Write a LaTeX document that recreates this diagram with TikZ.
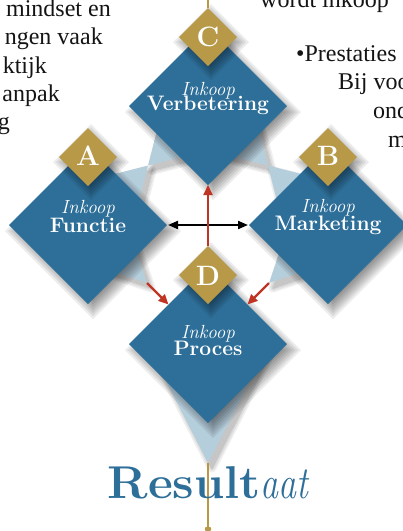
\documentclass[tikz,border=0pt]{standalone}
\usepackage{fontspec}
\usepackage{graphicx}
\newfontfamily\sidefont{Liberation Serif}
\usetikzlibrary{shapes.geometric,arrows.meta,calc}
\definecolor{dblue}{RGB}{46,111,153}
\definecolor{lblue}{RGB}{181,206,220}
\definecolor{gold}{RGB}{183,153,72}
\definecolor{ared}{RGB}{192,52,36}
\definecolor{txt}{RGB}{20,20,20}
% soft shadow of a diamond: centre x, centre y, half diagonal
\newcommand\dshadow[3]{%
  \foreach \d in {-9,-6,-3,0,3,6,9}{%
    \fill[black,opacity=.075] ({#1+5},{#2+6-#3-\d}) -- ({#1+5+#3+\d},{#2+6}) -- ({#1+5},{#2+6+#3+\d}) -- ({#1+5-#3-\d},{#2+6}) -- cycle;}}
% soft shadow of a polygon path
\newcommand\pshadow[1]{%
  \foreach \w in {0,3,6,9}{%
    \begin{scope}[transparency group,opacity=.06]
    \filldraw[black,line width=\w pt,line join=round,shift={(4,5)}] #1;
    \end{scope}}}
% two-line label: Inkoop (italic) over a bold word
\newcommand\twolines[2]{\vtop{\baselineskip=#1pt\lineskiplimit=-100pt\lineskip=0pt
  \hbox to 0pt{\hss\fontsize{19}{19}\selectfont\itshape Inkoop\hss}%
  \hbox to 0pt{\hss\fontsize{21}{21}\selectfont\bfseries #2\hss}}}
\begin{document}
\begin{tikzpicture}[x=1pt,y=-1pt,
  bigdia/.style={diamond,inner sep=0pt,outer sep=0pt,minimum width=158pt,minimum height=158pt,fill=dblue},
  badge/.style={diamond,inner sep=0pt,outer sep=0pt,minimum width=58pt,minimum height=58pt,fill=gold},
  conn/.style={fill=lblue},
  lbl/.style={text=white,anchor=base,inner sep=0pt},
  ltx/.style={font=\fontsize{28}{30}\selectfont\bfseries,text=white,anchor=base,inner sep=0pt},
  side/.style={font=\fontsize{24}{28}\selectfont\sidefont,text=txt,inner sep=0pt},
  goldline/.style={draw=gold,line width=1.5pt},
  redarrow/.style={draw=ared,line width=2.2pt,-{Triangle[length=10pt,width=9pt]}},
  blackarrow/.style={draw=black,line width=2pt,{Triangle[length=10pt,width=8pt]}-{Triangle[length=10pt,width=8pt]}}
]
\useasboundingbox (0,0) rectangle (403,531);
\fill[white] (0,0) rectangle (403,531);

% side texts (cut off by the page edge)
\node[side,anchor=base east] (l1) at (111,16.5) {mindset en};
\node[side,anchor=base east] (l2) at (103,44.8) {ngen vaak};
\node[side,anchor=base east] (l3) at (47,73.1) {ktijk};
\node[side,anchor=base east] (l4) at (60,101.4) {anpak};
\node[side,anchor=base east] (l5) at (10,129.7) {g};
\node[side,anchor=base west] (r0) at (260,7) {wordt inkoop};
\node[side,anchor=base west] (r1) at (296,61) {•Prestaties};
\node[side,anchor=base west] (r2) at (338,89.8) {Bij voo};
\node[side,anchor=base west] (r3) at (373,118.6) {ond};
\node[side,anchor=base west] (r4) at (388,147.4) {m};

% light-blue connectors
\coordinate (Atip) at (147,283);
\coordinate (Btip) at (269,283);
\coordinate (Dapex) at (208,463);
\coordinate (bot) at (208,528);
\coordinate (top) at (208,0);
\pshadow{(159.5,120.4) -- (193.1,154.0) -- (148,165.5) -- cycle}
\pshadow{(102.9,177.0) -- (136.5,210.6) -- (148,165.5) -- cycle}
\pshadow{(256.5,120.4) -- (222.9,154.0) -- (268,165.5) -- cycle}
\pshadow{(313.1,177.0) -- (279.5,210.6) -- (268,165.5) -- cycle}
\pshadow{(132.8,240.6) -- (104.6,268.8) -- (147,283) -- cycle}
\pshadow{(283.2,240.6) -- (311.4,268.8) -- (269,283) -- cycle}
\pshadow{(147,344) -- (269,344) -- (208,463) -- cycle}
\path[conn] (159.5,120.4) -- (193.1,154.0) -- (148,165.5) -- cycle;
\path[conn] (102.9,177.0) -- (136.5,210.6) -- (148,165.5) -- cycle;
\path[conn] (256.5,120.4) -- (222.9,154.0) -- (268,165.5) -- cycle;
\path[conn] (313.1,177.0) -- (279.5,210.6) -- (268,165.5) -- cycle;
\path[conn] (132.8,240.6) -- (104.6,268.8) -- (Atip) -- cycle;
\path[conn] (283.2,240.6) -- (311.4,268.8) -- (Btip) -- cycle;
\path[conn] (147,344) -- (269,344) -- (Dapex) -- cycle;

% gold line to the bottom
\draw[goldline] (Dapex) -- (bot);
\fill[gold,rounded corners=0.8pt] (205,527) rectangle (211,531);

% Resultaat
\node[font=\fontsize{46}{50}\selectfont,text=dblue,anchor=base,inner sep=0pt] (res) at (208,498) {\scalebox{1.05}[1]{\bfseries Result}\scalebox{0.78}[1]{\itshape aat}};

% main diamonds
\dshadow{208}{106}{79}
\dshadow{88}{225}{79}
\dshadow{328}{225}{79}
\dshadow{208}{344}{79}
\node[bigdia] (C) at (208,106) {};
\node[bigdia] (A) at (88,225) {};
\node[bigdia] (B) at (328,225) {};
\node[bigdia] (D) at (208,344) {};

% badges
\dshadow{206}{36}{29}
\dshadow{86}{156}{29}
\dshadow{326}{156}{29}
\dshadow{206}{274}{29}
\node[badge] (Cb) at (208,37) {};
\node[badge] (Ab) at (88,157) {};
\node[badge] (Bb) at (328,157) {};
\node[badge] (Db) at (208,275) {};
\draw[goldline] (top) -- (Cb.north);

\node[ltx] (Cl) at (208,46.5) {C};
\node[ltx] (Al) at (88,165.5) {A};
\node[ltx] (Bl) at (328,165.5) {B};
\node[ltx] (Dl) at (208,285) {D};

\node[lbl] (Ct) at (208,95) {\twolines{15.5}{Verbetering}};
\node[lbl] (At) at (88,213) {\twolines{19}{Functie}};
\node[lbl] (Bt) at (328,212) {\twolines{18}{Marketing}};
\node[lbl] (Dt) at (208,338) {\twolines{17}{Proces}};

% arrows
\draw[blackarrow,shorten <=1pt,shorten >=1pt] (A.east) -- (B.west);
\draw[redarrow] (Db.north) -- (C.south);
\draw[redarrow] (Atip) -- ($(D.west)!.5!(D.north)$);
\draw[redarrow] (Btip) -- ($(D.east)!.5!(D.north)$);
\end{tikzpicture}
\end{document}
